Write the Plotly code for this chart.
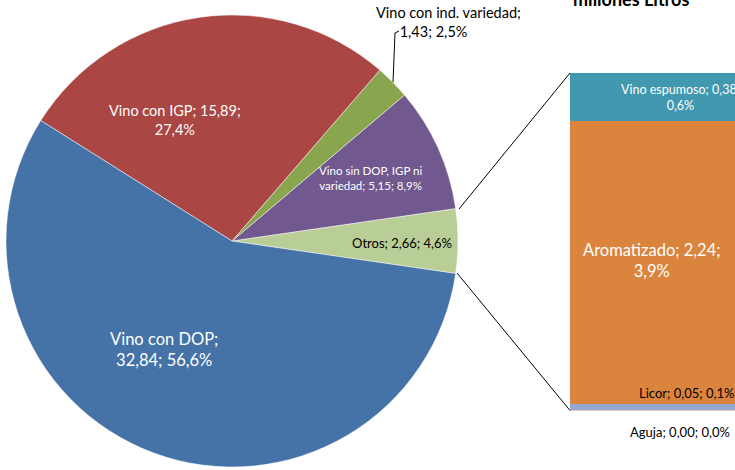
import plotly.graph_objects as go

# Pie: main categories (millones de litros)
pie_labels = ["Otros", "Vino sin DOP, IGP ni variedad", "Vino con ind. variedad", "Vino con IGP", "Vino con DOP"]
pie_values = [2.66, 5.15, 1.43, 15.89, 32.84]
pie_pct = [4.6, 8.9, 2.5, 27.4, 56.6]
pie_colors = ["#B9CD96", "#71588F", "#89A54E", "#AA4643", "#4572A7"]

# Bar: breakdown of "Otros" (bottom to top)
bar_labels = ["Aguja", "Licor", "Aromatizado", "Vino espumoso"]
bar_values = [0.004, 0.05, 2.24, 0.38]
bar_pct = [0.0, 0.1, 3.9, 0.6]
bar_colors = ["#D19392", "#93A9CF", "#DB843D", "#4198AF"]

title_text = "millones Litros"

W, H = 735, 470
FONT = "Lato, 'Open Sans', sans-serif"


def px(x):
    return x / W


def py(y):
    return 1 - y / H


def num(v, d):
    return f"{v:.{d}f}".replace(".", ",")


def label(name, v, p, brk):
    s = f"{name}; {num(v, 2)}; {num(p, 1)}%"
    if brk == "name":
        return s.replace("; ", ";<br>", 1)
    if brk == "value":
        i = s.rfind("; ")
        return s[:i] + ";<br>" + s[i + 2:]
    if brk:
        return s.replace(brk + " ", brk + "<br>", 1)
    return s


def note(text, x, y, size, color="black", **kw):
    return dict(x=px(x), y=py(y), xref="paper", yref="paper", showarrow=False,
                xanchor="center", yanchor=kw.pop("yanchor", "middle"), align="center",
                text=text, font=dict(family=FONT, size=size, color=color), **kw)


fig = go.Figure()

# counterclockwise pie: first slice (Otros) spans [rotation, rotation + size], centred on 3 o'clock
fig.add_trace(go.Pie(
    labels=pie_labels,
    values=pie_values,
    marker=dict(colors=pie_colors, line=dict(color="white", width=0.5)),
    sort=False,
    direction="counterclockwise",
    rotation=90 - 180 * pie_values[0] / sum(pie_values),
    textinfo="none",
    domain=dict(x=[px(5), px(459)], y=[py(467), py(15)]),
    hovertemplate="%{label}: %{value:.2f}<extra></extra>",
))

for name, v, c in zip(bar_labels, bar_values, bar_colors):
    fig.add_trace(go.Bar(
        x=[0], y=[v], width=1, name=name,
        marker=dict(color=c, line=dict(width=0)),
        hovertemplate=name + ": %{y:.2f}<extra></extra>",
    ))

ann = []
# pie labels: (index, x, y, color, size, break)
for i, x, y, col, sz, brk in [
    (4, 164, 349, "white", 16.5, "name"),
    (3, 175, 120, "white", 14.5, "value"),
    (1, 370, 178, "white", 11.5, "IGP ni"),
    (0, 402, 243, "black", 13, None),
]:
    ann.append(note(label(pie_labels[i], pie_values[i], pie_pct[i], brk), x, y, sz, col))

# outside label with leader line (second line sits a bit left)
ann.append(note(pie_labels[2] + ";<br>" + f"{num(pie_values[2], 2)}; {num(pie_pct[2], 1)}%"
                + "&nbsp;" * 8, 448, 22, 14.5))

# bar labels
for i, x, y, col, sz, brk in [
    (3, 680, 98, "white", 12.5, "value"),
    (2, 652, 260, "white", 16.5, "value"),
    (1, 686, 393, "black", 13, None),
    (0, 680, 432, "black", 13, None),
]:
    ann.append(note(label(bar_labels[i], bar_values[i], bar_pct[i], brk), x, y, sz, col))

# title, cut by the top edge
ann.append(note("<b>" + title_text + "</b>", 631, 12, 18, yanchor="bottom"))

line = dict(color="black", width=1)
shapes = [
    dict(type="line", xref="paper", yref="paper", x0=px(459), y0=py(209), x1=px(570), y1=py(73), line=line),
    dict(type="line", xref="paper", yref="paper", x0=px(457), y0=py(273), x1=px(570), y1=py(410.5), line=line),
    dict(type="path", xref="paper", yref="paper",
         path=f"M {px(393)} {py(82)} L {px(395)} {py(33)} L {px(399)} {py(31)}", line=line),
]

fig.update_layout(
    width=W, height=H,
    margin=dict(l=0, r=0, t=0, b=0),
    paper_bgcolor="white",
    plot_bgcolor="white",
    showlegend=False,
    barmode="stack",
    bargap=0,
    annotations=ann,
    shapes=shapes,
    xaxis=dict(domain=[px(570), 1], range=[-0.5, 0.5], visible=False, fixedrange=True),
    yaxis=dict(domain=[py(410.5), py(73)], range=[0, sum(bar_values)], visible=False, fixedrange=True),
)

fig.write_html("out.html", config={"displayModeBar": False},
               post_script="document.body.style.margin = '0';")
